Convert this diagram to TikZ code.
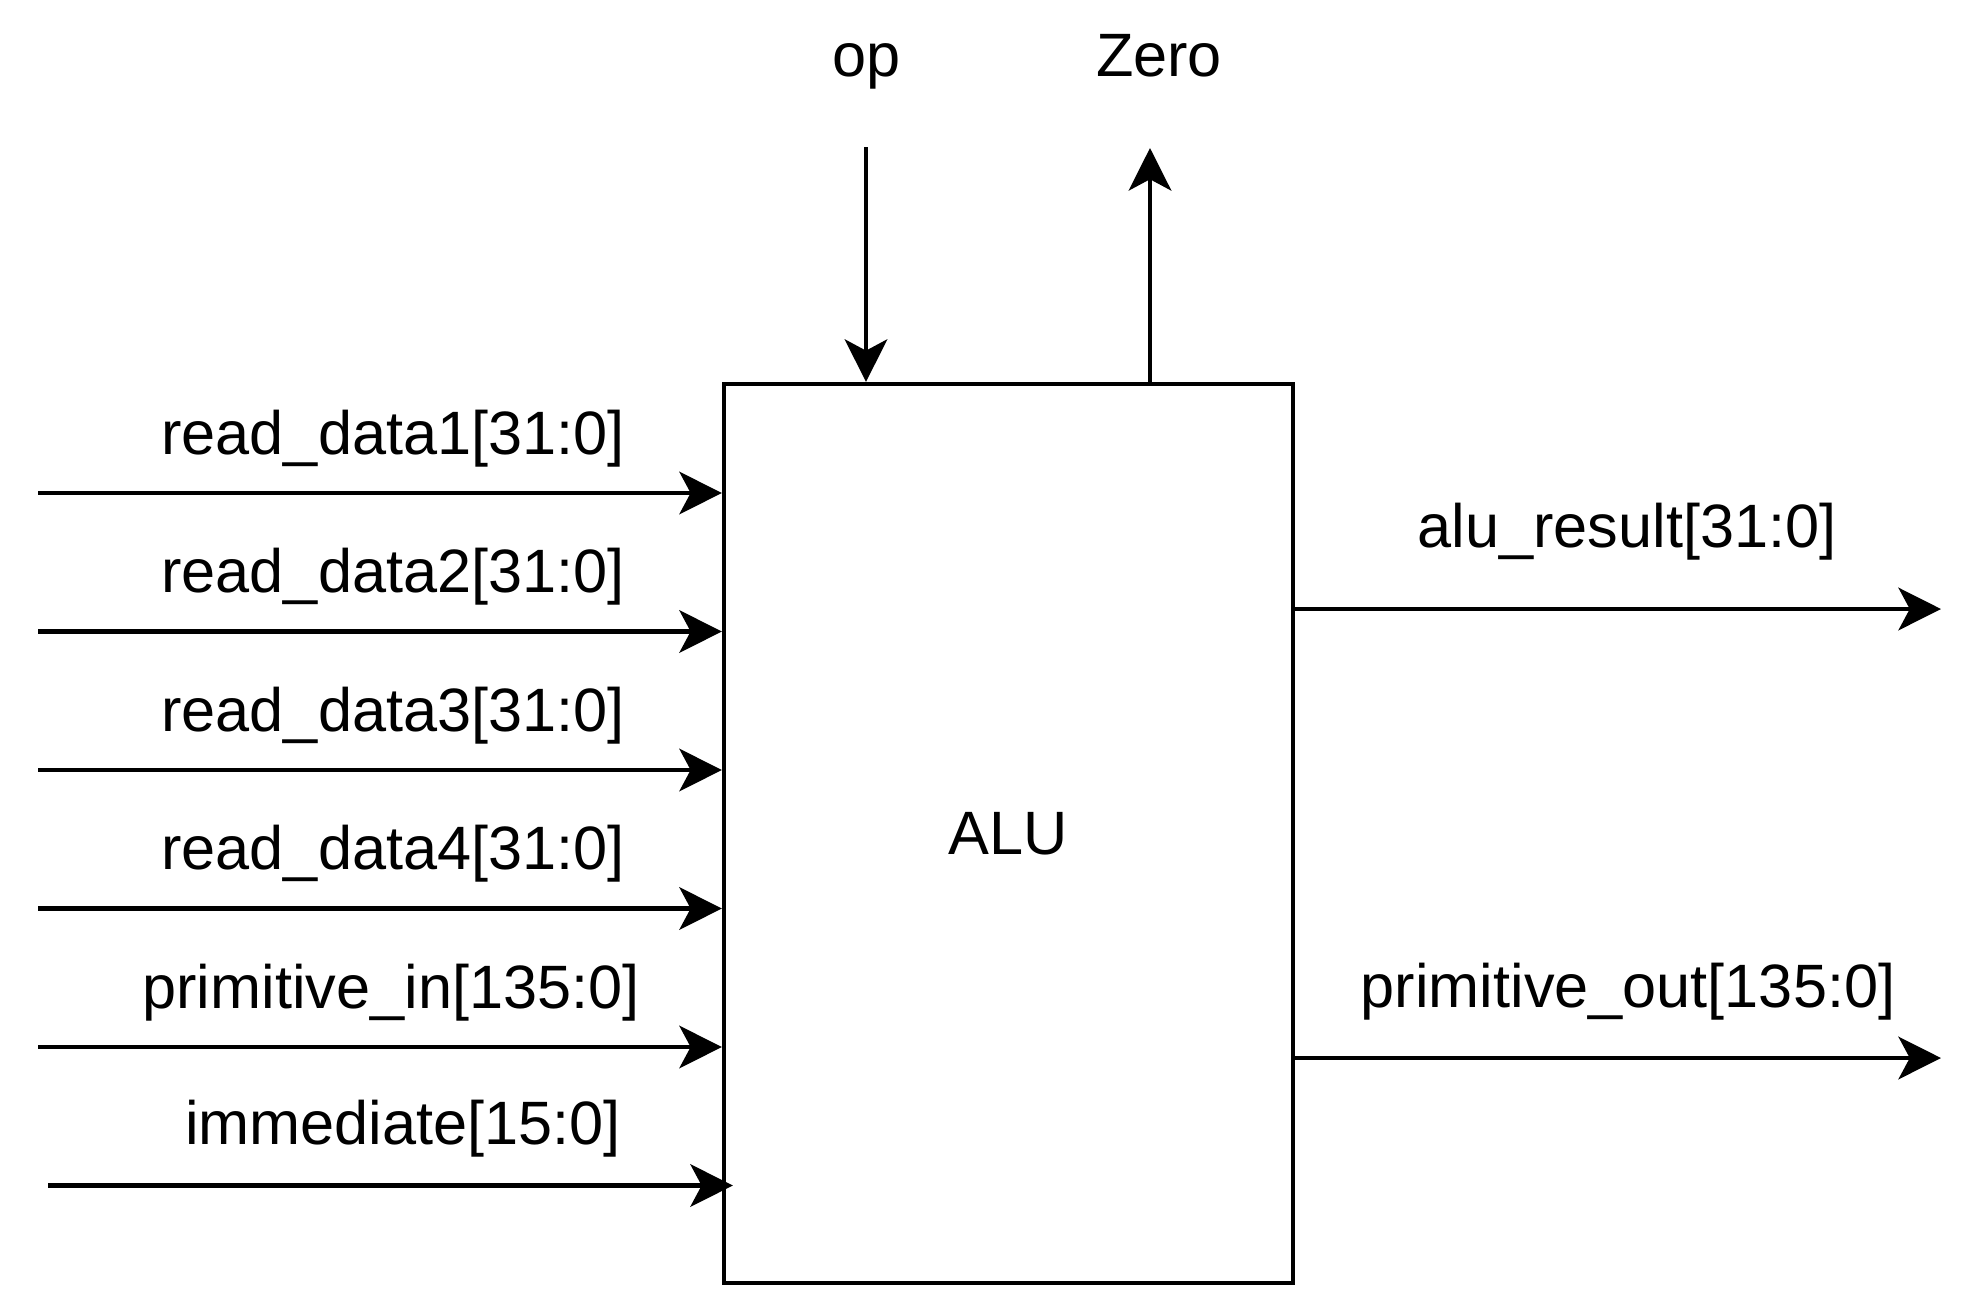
\documentclass[tikz,border=0pt]{standalone}
\usepackage{fontspec}
\setmainfont{Liberation Sans}
\usetikzlibrary{arrows.meta}
\begin{document}
\begin{tikzpicture}[x=0.4pt,y=-0.4pt,
  wire/.style={line width=1.8pt, -{Stealth[length=17pt,width=17pt,inset=4.5pt]}},
  lbl/.style={inner sep=0pt, anchor=base, font=\fontsize{24.5}{29}\selectfont}]
\useasboundingbox (0,0) rectangle (1981,1289);
\node[draw, line width=1.7pt, minimum width=227.6pt, minimum height=359.6pt, inner sep=0pt,
  font=\fontsize{24.5}{29}\selectfont] (alu) at (1008.5,833.5) {ALU};
% inputs on the left
\coordinate (i1) at (38,493);
\coordinate (i2) at (38,631.5);
\coordinate (i3) at (38,770);
\coordinate (i4) at (38,908.5);
\coordinate (i5) at (38,1047);
\coordinate (i6) at (48,1185.5);
\draw[wire] (i1) -- (i1 -| alu.west);
\draw[wire] (i2) -- (i2 -| alu.west);
\draw[wire] (i3) -- (i3 -| alu.west);
\draw[wire] (i4) -- (i4 -| alu.west);
\draw[wire] (i5) -- (i5 -| alu.west);
\draw[wire] (i6) -- ([xshift=4.4pt]i6 -| alu.west);
\node[lbl] (l1) at (393,454) {read\_data1[31:0]};
\node[lbl] (l2) at (393,592.5) {read\_data2[31:0]};
\node[lbl] (l3) at (393,731) {read\_data3[31:0]};
\node[lbl] (l4) at (393,869.5) {read\_data4[31:0]};
\node[lbl] (l5) at (391,1008) {primitive\_in[135:0]};
\node[lbl] (l6) at (403,1144.5) {immediate[15:0]};
% top
\coordinate (op) at (866,147);
\coordinate (zr) at (1150,148);
\draw[wire] (op) -- (op |- alu.north);
\draw[wire] (zr |- alu.north) -- (zr);
\node[lbl] (lop) at (867,76) {op};
\node[lbl] (lzr) at (1159,76) {Zero};
% outputs on the right
\coordinate (o1) at (1941,609);
\coordinate (o2) at (1941,1058);
\draw[wire] (o1 -| alu.east) -- (o1);
\draw[wire] (o2 -| alu.east) -- (o2);
\node[lbl] (lo1) at (1627,547) {alu\_result[31:0]};
\node[lbl] (lo2) at (1628,1007) {primitive\_out[135:0]};
\end{tikzpicture}
\end{document}
